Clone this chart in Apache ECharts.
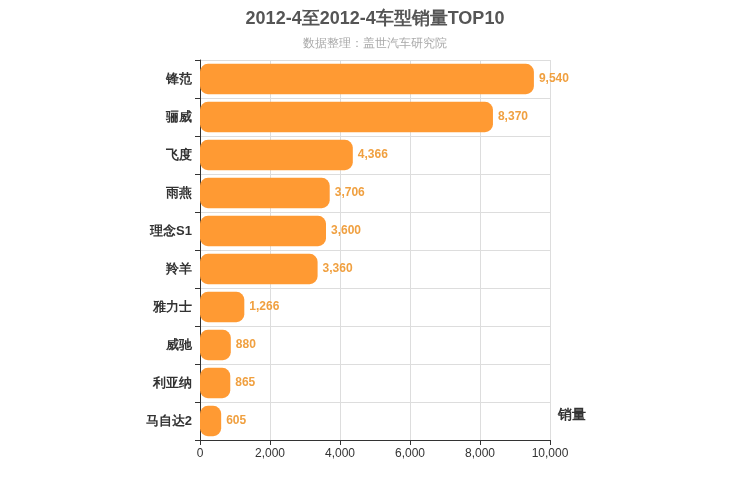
<!DOCTYPE html>
<html>
<head>
<meta charset="utf-8">
<script src="https://cdn.jsdelivr.net/npm/echarts@6/dist/echarts.min.js"></script>
<style>html,body{margin:0;padding:0;}#main{width:750px;height:500px;}</style>
</head>
<body>
<div id="main"></div>
<script>
var models = ['锋范', '骊威', '飞度', '雨燕', '理念S1', '羚羊', '雅力士', '威驰', '利亚纳', '马自达2'];
var sales = [9540, 8370, 4366, 3706, 3600, 3360, 1266, 880, 865, 605];
var xTicks = [0, 2000, 4000, 6000, 8000, 10000];

var myChart = echarts.init(document.getElementById('main'));
var option = {
    title: {
        text: '2012-4至2012-4车型销量TOP10',
        subtext: '数据整理：盖世汽车研究院',
        left: 'center',
        top: 5,
        itemGap: 10,
        textStyle: {fontSize: 18, fontWeight: 'bold', color: '#555'},
        subtextStyle: {fontSize: 12, color: '#aaa'}
    },
    grid: {left: 200, right: 200, top: 60, bottom: 60},
    xAxis: {
        type: 'value',
        min: xTicks[0],
        max: xTicks[xTicks.length - 1],
        interval: 2000,
        name: '销量',
        nameGap: 8,
        nameTextStyle: {fontSize: 14, fontWeight: 'bold', color: '#333', verticalAlign: 'bottom', padding: [0, 0, 18, 0]},
        axisLine: {show: true, lineStyle: {color: '#333'}},
        axisTick: {show: true},
        axisLabel: {color: '#333', formatter: function (v) { return v.toLocaleString('en-US'); }},
        splitLine: {lineStyle: {color: '#ddd'}}
    },
    yAxis: {
        type: 'category',
        inverse: true,
        data: models,
        axisLine: {lineStyle: {color: '#333'}},
        axisTick: {show: true},
        axisLabel: {fontSize: 13, fontWeight: 'bold', color: '#333'},
        splitLine: {show: true, lineStyle: {color: '#ddd'}}
    },
    series: [{
        type: 'bar',
        data: sales,
        barWidth: '80%',
        itemStyle: {color: '#ff9a33', borderRadius: 8},
        label: {
            show: true,
            position: 'right',
            color: '#f0a040',
            fontWeight: 'bold',
            formatter: function (p) { return p.value.toLocaleString('en-US'); }
        }
    }]
};
myChart.setOption(option);
</script>
</body>
</html>
